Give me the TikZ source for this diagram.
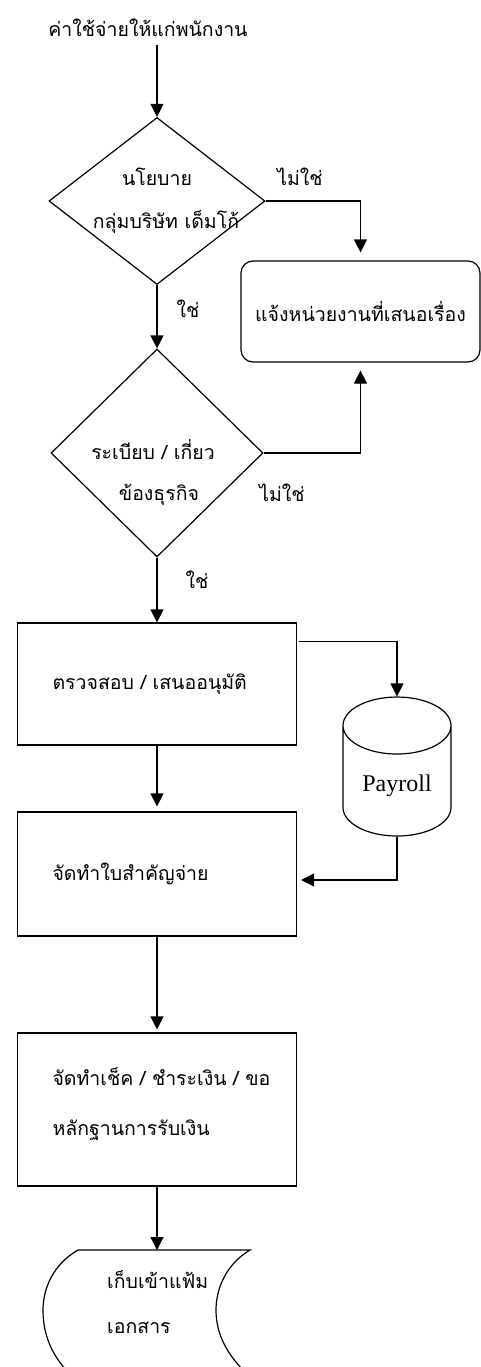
\documentclass[tikz,border=0pt]{standalone}
\usepackage{fontspec}
\setmainfont{Liberation Serif}
\newfontfamily\thaifont[Script=Thai]{Loma}
\usetikzlibrary{shapes.geometric,arrows.meta}
\tikzset{
  flow/.style={-{Triangle[length=13pt,width=13pt]}, line width=1.2pt},
  txt/.style={font=\thaifont\fontsize{19.5}{49}\selectfont, inner sep=0pt},
  decision/.style={draw, diamond, line width=1.2pt, inner sep=0pt},
  procbox/.style={draw, line width=1.2pt, minimum width=279pt, txt, text width=209pt, inner xsep=35pt, align=left},
}
\begin{document}
\begin{tikzpicture}[x=1pt,y=-1pt]
\useasboundingbox (0,0) rectangle (481,1367);
% start
\node[txt] (start) at (148,28) {ค่าใช้จ่ายให้แก่พนักงาน};
% first decision
\node[decision, minimum width=216pt, minimum height=167pt] (policy) at (157,201) {};
\node[txt] (policyA) at (157,177) {นโยบาย};
\node[txt] (policyB) at (166,222) {กลุ่มบริษัท เด็มโก้};
\node[txt] (noA) at (300,177) {ไม่ใช่};
\node[txt] (yesA) at (188,309) {ใช่};
\node[draw, rounded corners=12pt, line width=1.2pt, minimum width=239pt, minimum height=101pt, txt] (notify) at (360.5,311.5) {แจ้งหน่วยงานที่เสนอเรื่อง};
% second decision
\node[decision, minimum width=212pt, minimum height=208pt] (rule) at (157,453) {};
\node[txt] (ruleA) at (153,450) {ระเบียบ / เกี่ยว};
\node[txt] (ruleB) at (159,495) {ข้องธุรกิจ};
\node[txt] (noB) at (282,493) {ไม่ใช่};
\node[txt] (yesB) at (197,580) {ใช่};
% processes
\node[procbox, minimum height=122pt] (check) at (157,684) {ตรวจสอบ / เสนออนุมัติ};
\node[draw, cylinder, shape border rotate=90, aspect=0.75, line width=1.2pt, minimum width=108pt, minimum height=139pt, font=\fontsize{24}{28}\selectfont] (payroll) at (397,786) {Payroll};
\node[procbox, minimum height=124pt] (voucher) at (157,874) {จัดทำใบสำคัญจ่าย};
\node[procbox, minimum height=153pt] (cheque) at (157,1109.5) {\mbox{จัดทำเช็ค / ชำระเงิน / ขอ}\\[1pt]หลักฐานการรับเงิน\\[-33pt]\mbox{}};
% file
\coordinate (filetop) at (157,1250);
\node[txt, align=left, anchor=west] (file) at (107,1302) {เก็บเข้าแฟ้ม\\[-4pt]เอกสาร};
\draw[line width=1.2pt] (68,1372) .. controls (52,1355) and (43,1335) .. (43,1310) .. controls (43,1290) and (52,1265) .. (78,1250) -- (250,1250) .. controls (225,1265) and (216,1290) .. (216,1310) .. controls (216,1335) and (228,1355) .. (245,1372);
% connectors
\draw[flow] ([yshift=-8pt]policy.north |- start.south) -- (policy.north);
\draw[flow] (policy.east) -| ([yshift=8pt]notify.north);
\draw[flow] (policy.south) -- (rule.north);
\draw[flow] (rule.east) -| ([yshift=-8pt]notify.south);
\draw[flow] (rule.south) -- (check.north);
\draw[flow] ([shift={(2pt,-19pt)}]check.north east) -| (payroll.north);
\draw[flow] (check.south) -- ([yshift=5pt]voucher.north);
\draw[flow] (payroll.south) |- ([shift={(4pt,-6pt)}]voucher.east);
\draw[flow] (voucher.south) -- ([yshift=3pt]cheque.north);
\draw[flow] (cheque.south) -- (filetop);
\end{tikzpicture}
\end{document}
